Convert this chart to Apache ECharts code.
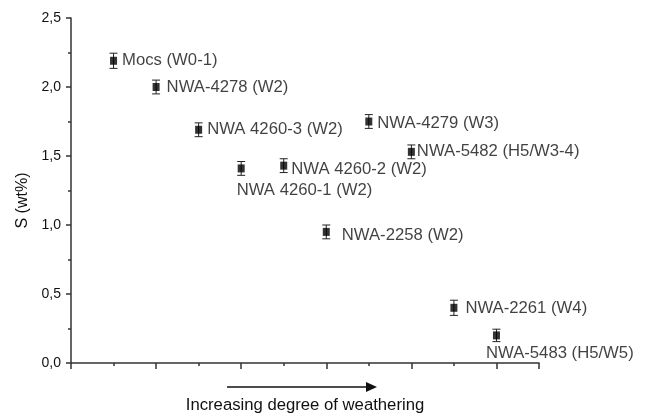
<!DOCTYPE html>
<html>
<head>
<meta charset="utf-8">
<style>
  html, body { margin: 0; padding: 0; background: #fff; }
  #chart { width: 646px; height: 416px; }
</style>
<script src="https://cdn.jsdelivr.net/npm/echarts@6/dist/echarts.min.js"></script>
</head>
<body>
<div id="chart"></div>
<script>
// sample names, position along the weathering scale, S content (wt%) and error
const names = ['Mocs (W0-1)', 'NWA-4278 (W2)', 'NWA 4260-3 (W2)', 'NWA 4260-1 (W2)', 'NWA 4260-2 (W2)',
  'NWA-2258 (W2)', 'NWA-4279 (W3)', 'NWA-5482 (H5/W3-4)', 'NWA-2261 (W4)', 'NWA-5483 (H5/W5)']
const xs = [1, 2, 3, 4, 5, 6, 7, 8, 9, 10]
const sValues = [2.19, 2.00, 1.69, 1.41, 1.43, 0.95, 1.75, 1.53, 0.40, 0.20]
const sErrors = [0.055, 0.05, 0.05, 0.05, 0.05, 0.05, 0.05, 0.05, 0.055, 0.045]
const yTicks = [0, 0.5, 1.0, 1.5, 2.0, 2.5]

const font = 'Liberation Sans, Arial, sans-serif'
const txt = '#111'
const axisColor = '#333'

// label placement per sample (style only)
const labelPos = {
  'NWA-4278 (W2)': { position: 'right', distance: 7 },
  'NWA 4260-1 (W2)': { position: [-1, 26], align: 'left', verticalAlign: 'middle' },
  'NWA 4260-2 (W2)': { position: 'right', distance: 4, offset: [0, 4] },
  'NWA-2258 (W2)': { position: 'right', distance: 12, offset: [0, 3] },
  'NWA-4279 (W3)': { position: 'right', distance: 5, offset: [0, 2] },
  'NWA-5482 (H5/W3-4)': { position: 'right', distance: 2 },
  'NWA-2261 (W4)': { position: 'right', distance: 8, offset: [0, 1] },
  'NWA-5483 (H5/W5)': { position: [-7, 22], align: 'left', verticalAlign: 'middle' }
}

const points = names.map((n, i) => ({
  name: n,
  value: [xs[i], sValues[i]],
  label: Object.assign({ show: true, position: 'right', distance: 5 }, labelPos[n] || {})
}))
const errData = names.map((n, i) => [xs[i], sValues[i], sErrors[i]])

const chart = echarts.init(document.getElementById('chart'))
chart.setOption({
  animation: false,
  backgroundColor: '#fff',
  grid: { left: 71, right: 107, top: 18, bottom: 53, outerBoundsMode: 'none', containLabel: false },
  xAxis: {
    type: 'value',
    min: 0,
    max: 11,
    interval: 2,
    name: 'Increasing degree of weathering',
    nameLocation: 'middle',
    nameGap: 34,
    nameTextStyle: { fontFamily: font, fontSize: 16.7, color: txt },
    axisLine: { lineStyle: { color: axisColor, width: 1.5 } },
    axisTick: { show: true, inside: false, length: 6, lineStyle: { color: axisColor, width: 1.5 } },
    minorTick: { show: true, splitNumber: 2, length: 3, lineStyle: { color: axisColor, width: 1.5 } },
    axisLabel: { show: false },
    splitLine: { show: false }
  },
  yAxis: {
    type: 'value',
    min: yTicks[0],
    max: yTicks[yTicks.length - 1],
    interval: 0.5,
    name: 'S (wt%)',
    nameLocation: 'middle',
    nameGap: 38,
    nameRotate: 90,
    nameTextStyle: { fontFamily: font, fontSize: 16, color: txt, padding: [0, 0, 0, -20] },
    axisLine: { show: true, lineStyle: { color: axisColor, width: 1.5 } },
    axisTick: { show: true, inside: false, length: 5, lineStyle: { color: axisColor, width: 1.5 } },
    minorTick: { show: true, splitNumber: 2, length: 3, lineStyle: { color: axisColor, width: 1.5 } },
    axisLabel: {
      margin: 10,
      fontFamily: font,
      fontSize: 14,
      color: txt,
      formatter: v => v.toFixed(1).replace('.', ',')
    },
    splitLine: { show: false }
  },
  series: [
    {
      // error bars
      type: 'custom',
      data: errData,
      z: 2,
      renderItem(params, api) {
        const x = api.value(0)
        const y = api.value(1)
        const e = api.value(2)
        const top = api.coord([x, y + e])
        const bot = api.coord([x, y - e])
        const cap = 4
        const style = { stroke: '#222', lineWidth: 1 }
        return {
          type: 'group',
          children: [
            { type: 'line', shape: { x1: top[0], y1: top[1], x2: bot[0], y2: bot[1] }, style },
            { type: 'line', shape: { x1: top[0] - cap, y1: top[1], x2: top[0] + cap, y2: top[1] }, style },
            { type: 'line', shape: { x1: bot[0] - cap, y1: bot[1], x2: bot[0] + cap, y2: bot[1] }, style }
          ]
        }
      }
    },
    {
      type: 'scatter',
      symbol: 'rect',
      symbolSize: [7, 8],
      z: 3,
      itemStyle: { color: '#000' },
      label: {
        formatter: '{b}',
        fontFamily: font,
        fontSize: 16.7,
        color: txt
      },
      data: points
    }
  ],
  graphic: [
    {
      type: 'line',
      shape: { x1: 227, y1: 387, x2: 368, y2: 387 },
      style: { stroke: '#111', lineWidth: 1.5 }
    },
    {
      type: 'polygon',
      shape: { points: [[366, 382], [377, 387], [366, 392]] },
      style: { fill: '#111' }
    }
  ]
})
</script>
</body>
</html>
